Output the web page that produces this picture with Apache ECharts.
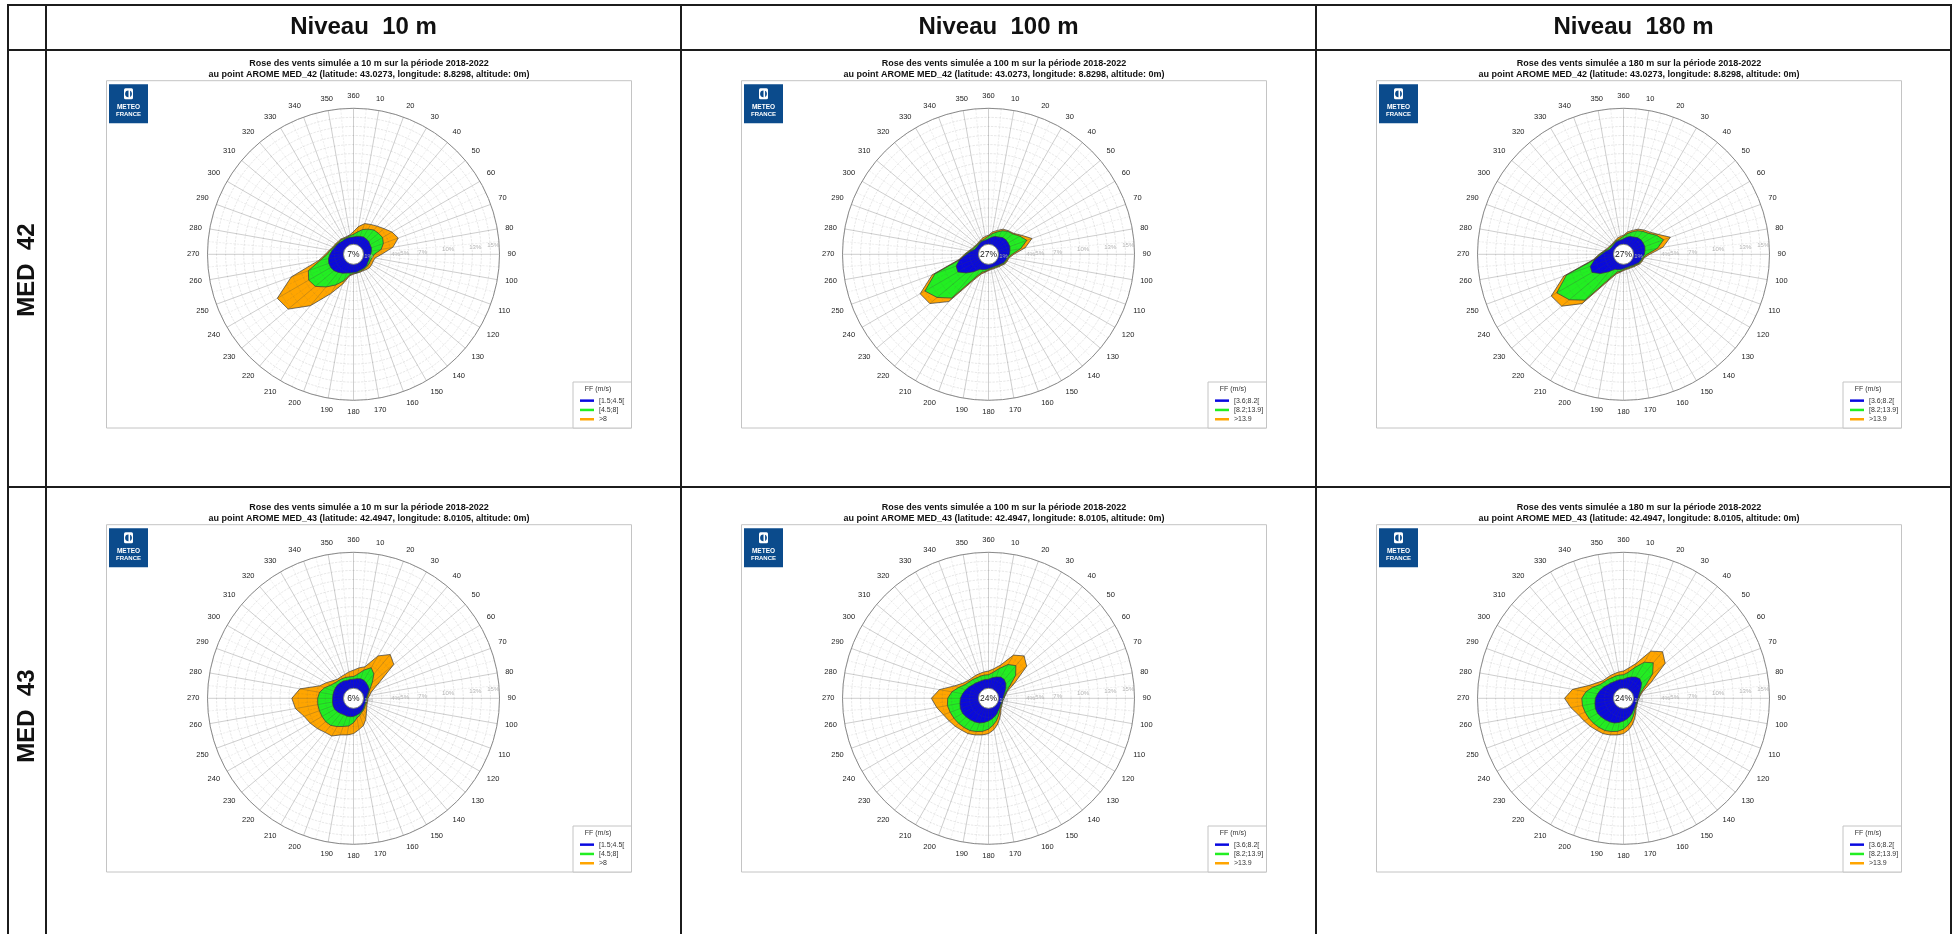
<!DOCTYPE html>
<html><head><meta charset="utf-8">
<script src="https://cdn.jsdelivr.net/npm/echarts@6/dist/echarts.min.js"></script>
<style>html,body{margin:0;padding:0;background:#fff;overflow:hidden}#c{width:1952px;height:934px}</style>
</head><body><div id="c"></div>
<script>
// ---------------- DATA ----------------
const directions = [0,10,20,30,40,50,60,70,80,90,100,110,120,130,140,150,160,170,180,190,200,210,220,230,240,250,260,270,280,290,300,310,320,330,340,350];
const columnHeaders = ['Niveau  10 m','Niveau  100 m','Niveau  180 m'];
const levelHeights = [10, 100, 180];
const rowHeaders = ['MED  42','MED  43'];
const pointNames = ['MED_42','MED_43'];
const latitudes = ['43.0273','42.4947'];
const longitudes = ['8.8298','8.0105'];
const speedClasses10m = ['[1.5;4.5[','[4.5;8]','>8'];
const speedClassesHigh = ['[3.6;8.2[','[8.2;13.9]','>13.9'];
const calmLabels = [['7%','27%','27%'],['6%','24%','24%']];
const radialTickLabels = [1,4,5,7,10,13,15];

// cumulative outline (%) of each speed class, per direction
const med42_10m_class1 = [0.8,0.9,1.0,1.1,1.1,1.1,1.0,1.0,0.9,0.8,0.7,0.7,0.7,0.8,0.8,0.8,0.8,0.9,0.9,1.0,1.1,1.3,1.5,1.7,1.8,1.8,1.7,1.5,1.3,1.1,1.0,0.9,0.8,0.8,0.8,0.8];
const med42_10m_class2 = [1.1,1.4,1.8,2.1,2.4,2.5,2.6,2.4,2.0,1.2,1.0,0.9,0.9,0.9,0.9,0.9,0.9,1.0,1.0,1.2,2.0,2.8,3.6,4.4,4.6,4.2,2.6,1.8,1.5,1.2,1.1,1.0,1.0,0.9,0.9,1.0];
const med42_10m_class3 = [1.4,2.0,2.5,2.7,2.95,3.3,3.8,4.15,3.3,2.0,1.3,1.2,1.2,1.2,1.1,1.0,1.0,1.0,1.1,1.3,2.4,3.9,6.3,8.3,8.6,6.2,2.8,2.0,1.6,1.3,1.2,1.1,1.1,1.0,1.0,1.1];

const med42_100m_class1 = [0.6,0.8,1.0,1.1,1.3,1.4,1.4,1.4,1.3,1.2,1.0,0.9,0.8,0.6,0.5,0.4,0.4,0.4,0.5,0.6,0.7,0.8,1.4,2.1,2.8,2.7,2.1,1.3,0.9,0.5,0.4,0.4,0.4,0.5,0.5,0.5];
const med42_100m_class2 = [0.9,1.2,1.5,1.9,2.2,2.4,2.9,3.4,2.5,1.5,1.1,1.0,0.9,0.7,0.6,0.5,0.5,0.5,0.6,0.8,1.0,1.9,5.2,6.3,7.0,5.2,2.0,1.45,1.0,0.7,0.6,0.5,0.5,0.6,0.6,0.7];
const med42_100m_class3 = [1.0,1.4,1.7,2.1,2.3,2.5,3.1,4.0,3.0,1.7,1.2,1.1,1.0,0.8,0.7,0.6,0.6,0.6,0.7,0.9,1.2,2.2,5.7,7.35,7.6,5.5,2.2,1.55,1.1,0.8,0.7,0.6,0.6,0.7,0.8,0.9];

const med42_180m_class1 = [0.6,0.8,1.0,1.1,1.3,1.4,1.4,1.4,1.3,1.2,1.0,0.9,0.8,0.6,0.5,0.4,0.4,0.4,0.5,0.6,0.7,0.8,1.4,2.2,2.9,2.8,2.1,1.3,0.9,0.5,0.4,0.4,0.4,0.5,0.5,0.5];
const med42_180m_class2 = [0.9,1.2,1.5,1.9,2.2,2.5,3.1,3.6,2.7,1.5,1.1,1.0,0.9,0.7,0.6,0.5,0.5,0.5,0.6,0.8,1.0,2.0,5.5,6.7,7.4,5.6,2.1,1.5,1.0,0.7,0.6,0.5,0.5,0.6,0.6,0.7];
const med42_180m_class3 = [1.0,1.4,1.7,2.1,2.4,2.7,3.3,4.4,3.3,1.8,1.2,1.1,1.0,0.8,0.7,0.6,0.6,0.6,0.7,0.9,1.2,2.3,6.0,7.8,8.1,5.9,2.3,1.6,1.1,0.8,0.7,0.6,0.6,0.7,0.8,0.9];

const med43_10m_class1 = [1.0,1.1,1.2,1.2,1.1,1.0,0.9,0.6,0.4,0.3,0.3,0.3,0.3,0.4,0.5,0.6,0.7,0.8,0.9,0.95,1.0,1.0,1.1,1.2,1.3,1.3,1.25,1.2,1.2,1.2,1.2,1.2,1.15,1.1,1.0,1.0];
const med43_10m_class2 = [1.3,1.6,2.2,2.8,2.4,1.6,1.0,0.7,0.5,0.4,0.4,0.4,0.4,0.5,0.6,0.7,0.9,1.1,1.6,2.0,2.2,2.5,2.8,2.9,2.9,2.9,2.9,2.85,2.7,2.3,1.8,1.55,1.45,1.4,1.35,1.3];
const med43_10m_class3 = [2.0,2.3,2.6,4.3,5.2,4.7,2.0,1.0,0.7,0.5,0.5,0.5,0.6,0.8,1.1,1.6,2.1,2.4,2.8,3.0,3.2,3.7,3.8,4.1,4.4,4.7,5.4,5.7,4.9,2.9,2.35,1.9,1.65,1.65,1.7,1.85];

const med43_100m_class1 = [1.0,1.2,1.4,1.6,1.6,1.4,1.1,0.8,0.6,0.5,0.4,0.4,0.4,0.5,0.6,0.8,1.0,1.2,1.4,1.6,1.8,1.9,2.0,2.1,2.2,2.2,2.1,2.0,1.8,1.6,1.4,1.2,1.1,1.0,1.0,1.0];
const med43_100m_class2 = [1.5,1.8,2.4,3.2,3.6,2.8,1.6,1.0,0.7,0.6,0.5,0.5,0.5,0.6,0.8,1.1,1.5,1.9,2.3,2.6,2.8,3.0,3.1,3.2,3.3,3.4,3.5,3.4,3.0,2.4,1.9,1.7,1.6,1.5,1.5,1.5];
const med43_100m_class3 = [1.9,2.2,2.8,4.4,5.0,4.4,2.2,1.1,0.8,0.6,0.5,0.5,0.6,0.7,1.0,1.4,1.9,2.4,2.8,3.0,3.2,3.4,3.5,3.7,3.9,4.2,4.7,5.2,4.4,2.9,2.2,1.9,1.8,1.8,1.8,1.85];

const med43_180m_class1 = [1.0,1.2,1.4,1.6,1.7,1.5,1.1,0.8,0.6,0.5,0.4,0.4,0.4,0.5,0.6,0.8,1.0,1.2,1.4,1.6,1.8,1.9,2.0,2.1,2.2,2.2,2.1,2.0,1.8,1.6,1.4,1.2,1.1,1.0,1.0,1.0];
const med43_180m_class2 = [1.5,1.8,2.5,3.5,4.0,3.1,1.7,1.0,0.7,0.6,0.5,0.5,0.5,0.6,0.8,1.1,1.5,1.9,2.3,2.6,2.8,3.0,3.1,3.2,3.3,3.4,3.5,3.5,3.1,2.5,1.9,1.7,1.6,1.5,1.5,1.5];
const med43_180m_class3 = [1.9,2.3,3.0,4.9,5.6,4.9,2.4,1.2,0.8,0.6,0.5,0.5,0.6,0.7,1.0,1.4,1.9,2.4,2.8,3.0,3.2,3.4,3.5,3.7,3.9,4.2,4.8,5.4,4.6,3.0,2.3,1.9,1.8,1.8,1.8,1.85];

// ---------------- LAYOUT / STYLE ----------------
const FONT = "'Liberation Sans', Arial, sans-serif";
const classColors = ['#0808e0', '#22ee22', '#ffa500'];
const tableX = [8, 46, 681, 1316, 1951];
const tableY = [5, 50, 487];
const frameW = 525, frameH = 347.3;
const roses = [
  {row:0, col:0, cls:[med42_10m_class1, med42_10m_class2, med42_10m_class3]},
  {row:0, col:1, cls:[med42_100m_class1, med42_100m_class2, med42_100m_class3]},
  {row:0, col:2, cls:[med42_180m_class1, med42_180m_class2, med42_180m_class3]},
  {row:1, col:0, cls:[med43_10m_class1, med43_10m_class2, med43_10m_class3]},
  {row:1, col:1, cls:[med43_100m_class1, med43_100m_class2, med43_100m_class3]},
  {row:1, col:2, cls:[med43_180m_class1, med43_180m_class2, med43_180m_class3]}
];

function txt(x, y, text, font, fill, extra) {
  return Object.assign({type:'text', x:x, y:y, silent:true, z:10,
    style:{text:text, font:font, fill:fill, align:'center', verticalAlign:'middle', textAlign:'center', textVerticalAlign:'middle'}}, extra || {});
}

const graphic = [];
tableX.forEach(x => graphic.push({type:'line', silent:true, z:10, shape:{x1:x, y1:tableY[0]-1, x2:x, y2:960}, style:{stroke:'#1c1c1c', lineWidth:2}}));
tableY.forEach(y => graphic.push({type:'line', silent:true, z:10, shape:{x1:tableX[0]-1, y1:y, x2:tableX[4]+1, y2:y}, style:{stroke:'#1c1c1c', lineWidth:2}}));
columnHeaders.forEach((t, c) => graphic.push(txt((tableX[c+1]+tableX[c+2])/2, 27, t, 'bold 24px ' + FONT, '#111')));
rowHeaders.forEach((t, r) => graphic.push(txt(27, r === 0 ? 270 : 716, t, 'bold 24px ' + FONT, '#111', {rotation: Math.PI/2})));

const polar = [], angleAxis = [], radiusAxis = [], series = [], legend = [];

roses.forEach((rz, i) => {
  const fl = tableX[rz.col+1] + 60.5;
  const ft = 80.7 + rz.row * 444;
  const cx = fl + 247, cy = ft + 173.6;
  const names = rz.col === 0 ? speedClasses10m : speedClassesHigh;

  graphic.push({type:'rect', silent:true, z:0, shape:{x:fl, y:ft, width:frameW, height:frameH}, style:{fill:'#fff', stroke:'#c4c4c4', lineWidth:1}});
  graphic.push(txt(fl + 262.5, ft - 17.4, 'Rose des vents simulée a ' + levelHeights[rz.col] + ' m sur la période 2018-2022', 'bold 9px ' + FONT, '#111'));
  graphic.push(txt(fl + 262.5, ft - 6.4, 'au point AROME ' + pointNames[rz.row] + ' (latitude: ' + latitudes[rz.row] + ', longitude: ' + longitudes[rz.row] + ', altitude: 0m)', 'bold 9px ' + FONT, '#111'));
  graphic.push({type:'group', x:fl + 2.5, y:ft + 3.6, z:10, silent:true, children:[
    {type:'rect', shape:{x:0, y:0, width:39, height:39}, style:{fill:'#0b4b8c'}},
    {type:'rect', shape:{x:15, y:4, width:9, height:11, r:1.5}, style:{fill:'#fff'}},
    {type:'circle', shape:{cx:19.5, cy:9.5, r:3.4}, style:{fill:'#0b4b8c'}},
    {type:'rect', shape:{x:19.5, y:5.5, width:1.6, height:8}, style:{fill:'#fff'}},
    {type:'text', x:19.5, y:23, style:{text:'METEO', font:'bold 6.5px ' + FONT, fill:'#fff', align:'center', verticalAlign:'middle', textAlign:'center', textVerticalAlign:'middle'}},
    {type:'text', x:19.5, y:30, style:{text:'FRANCE', font:'bold 6px ' + FONT, fill:'#fff', align:'center', verticalAlign:'middle', textAlign:'center', textVerticalAlign:'middle'}}
  ]});
  graphic.push({type:'rect', silent:true, z:1, shape:{x:fl + 466.5, y:ft + 301.3, width:58.5, height:46}, style:{fill:'#fff', stroke:'#c4c4c4', lineWidth:1}});
  graphic.push(txt(fl + 491.5, ft + 308.5, 'FF (m/s)', '7px ' + FONT, '#333'));
  graphic.push(txt(cx, cy + 0.5, calmLabels[rz.row][rz.col], '8.5px ' + FONT, '#222'));

  polar.push({center:[cx, cy], radius:[10, 146]});
  polar.push({center:[cx, cy], radius:[10, 146]});
  const p = 2 * i;
  angleAxis.push({polarIndex:p, type:'value', min:0, max:360, interval:10, startAngle:90, clockwise:true, z:3,
    axisLine:{show:true, lineStyle:{color:'#8a8a8a', width:1}},
    axisTick:{show:false},
    axisLabel:{show:true, margin:8, fontSize:7.5, color:'#222', fontFamily:FONT,
      formatter: v => v === 0 ? '360' : (v === 360 ? '' : String(v))},
    splitLine:{show:true, lineStyle:{color:'rgba(70,70,70,0.38)', width:0.7}},
    minorTick:{show:false, splitNumber:2},
    minorSplitLine:{show:true, lineStyle:{color:'rgba(90,90,90,0.16)', width:0.6, type:'dashed'}}
  });
  radiusAxis.push({polarIndex:p, type:'value', min:0, max:15, interval:1, z:3,
    axisLine:{show:false}, axisTick:{show:false}, axisLabel:{show:false},
    splitLine:{show:true, lineStyle:{color:'rgba(90,90,90,0.24)', width:0.6, type:'dashed'}}
  });
  angleAxis.push({polarIndex:p+1, type:'value', min:0, max:360, startAngle:5, clockwise:true, show:false});
  radiusAxis.push({polarIndex:p+1, type:'value', min:0, max:15, interval:1, z:6,
    axisLine:{show:false}, axisTick:{show:false}, splitLine:{show:false},
    axisLabel:{show:true, margin:-4, fontSize:6, color:'#b4b4b4', fontFamily:FONT,
      formatter: v => radialTickLabels.indexOf(v) >= 0 ? v + '%' : ''}
  });

  [2, 1, 0].forEach(k => {
    const vals = rz.cls[k];
    series.push({
      type:'line', name:names[k], coordinateSystem:'polar', polarIndex:p,
      data: directions.map((d, j) => [vals[j], d]).concat([[vals[0], 360]]),
      symbol:'none', smooth:false, silent:true, animation:false, z:2,
      lineStyle:{color:'#3a3a3a', width:0.7},
      itemStyle:{color:classColors[k]},
      areaStyle:{color:classColors[k], opacity:1}
    });
  });

  legend.push({data:names.slice(), orient:'vertical', left:fl + 473.5, top:ft + 315.8, icon:'rect',
    itemWidth:14, itemHeight:2.5, itemGap:1, padding:0, selectedMode:false, z:12,
    itemStyle:{borderWidth:0},
    textStyle:{fontSize:7, color:'#333', fontFamily:FONT, lineHeight:8.3}});
});

const chart = echarts.init(document.getElementById('c'), null, {renderer:'canvas'});
chart.setOption({
  backgroundColor:'#fff',
  animation:false,
  polar, angleAxis, radiusAxis, series, legend, graphic
});
</script></body></html>
